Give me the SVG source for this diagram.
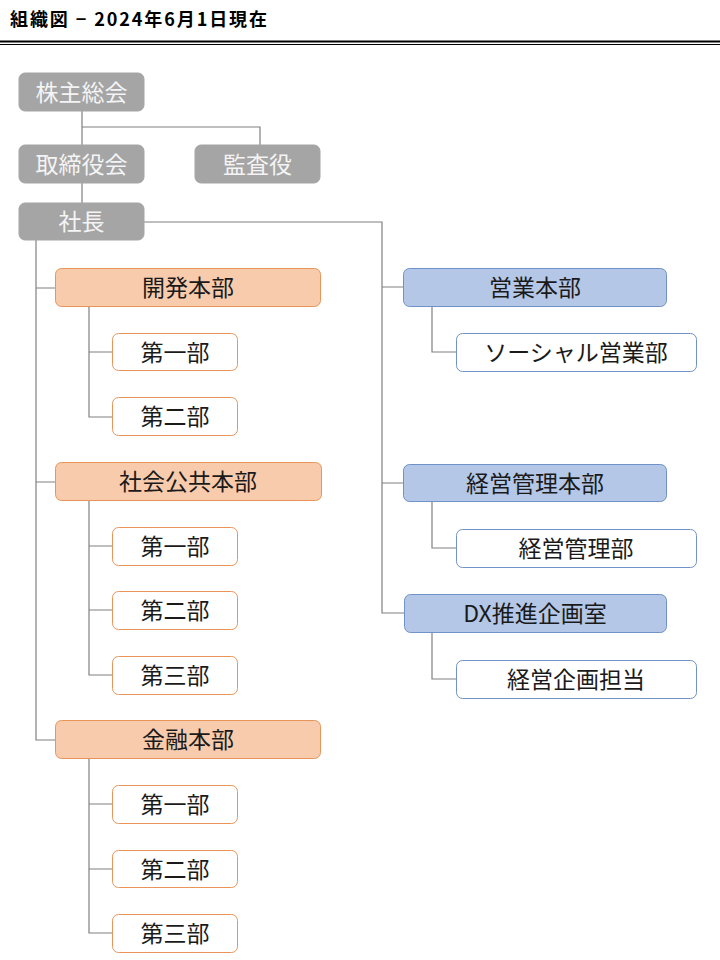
<svg xmlns="http://www.w3.org/2000/svg" width="720" height="960" viewBox="0 0 720 960">
<style>
text{font-family:"Noto Sans CJK JP","Noto Sans",sans-serif;font-size:23px;text-anchor:middle}
.g rect{fill:#a5a5a5;stroke:#a5a5a5}
.g text{fill:#f4f4f4}
.o rect{fill:#f8cbad;stroke:#e9955a;stroke-width:1}
.ow rect{fill:#fff;stroke:#e9955a;stroke-width:1}
.b rect{fill:#b4c7e7;stroke:#7092c8;stroke-width:1}
.bw rect{fill:#fff;stroke:#7092c8;stroke-width:1}
.o text,.ow text,.b text,.bw text{fill:#1a1a1a}
#connectors path{fill:none;stroke:#808080;stroke-width:1.2}
</style>
<rect width="720" height="960" fill="#fff"/>
<g id="header">
<text x="10" y="26" style="text-anchor:start;font-size:18px;font-weight:bold;fill:#000" textLength="257" lengthAdjust="spacing">組織図 − 2024年6月1日現在</text>
<line x1="0" y1="41.5" x2="720" y2="41.5" stroke="#000" stroke-width="1.8"/>
<line x1="0" y1="44.5" x2="720" y2="44.5" stroke="#000" stroke-width="1"/>
</g>
<g id="connectors">
<path d="M82 111V145M82 127H260V145"/>
<path d="M82 183V203"/>
<path d="M36 240V740H55M36 288H55M36 482H55"/>
<path d="M89 307V417H112M89 352H112"/>
<path d="M89 501V675H112M89 546H112M89 610H112"/>
<path d="M89 759V933H112M89 804H112M89 869H112"/>
<path d="M144 222H382V613H404M382 287H403M382 483H403"/>
<path d="M432 307V352H456"/>
<path d="M432 502V548H456"/>
<path d="M432 633V679H456"/>
</g>
<g id="n-kabunushi" class="g"><rect x="19" y="73" width="125" height="38" rx="6"/><text x="81.5" y="100.5">株主総会</text></g>
<g id="n-torishimari" class="g"><rect x="19" y="145" width="125" height="38" rx="6"/><text x="81.5" y="172.5">取締役会</text></g>
<g id="n-kansa" class="g"><rect x="195" y="145" width="125" height="38" rx="6"/><text x="257.5" y="172.5">監査役</text></g>
<g id="n-shacho" class="g"><rect x="19" y="203" width="125" height="37" rx="6"/><text x="81.5" y="230">社長</text></g>

<g id="n-kaihatsu" class="o"><rect x="55.5" y="268.5" width="265" height="38" rx="6"/><text x="188" y="296">開発本部</text></g>
<g id="n-kaihatsu-1" class="ow"><rect x="112.5" y="333.5" width="125" height="37" rx="6"/><text x="175" y="360.5">第一部</text></g>
<g id="n-kaihatsu-2" class="ow"><rect x="112.5" y="397.5" width="125" height="38" rx="6"/><text x="175" y="425">第二部</text></g>

<g id="n-shakai" class="o"><rect x="55.5" y="462.5" width="266" height="38" rx="6"/><text x="188" y="490">社会公共本部</text></g>
<g id="n-shakai-1" class="ow"><rect x="112.5" y="527.5" width="125" height="38" rx="6"/><text x="175" y="555">第一部</text></g>
<g id="n-shakai-2" class="ow"><rect x="112.5" y="591.5" width="125" height="38" rx="6"/><text x="175" y="619">第二部</text></g>
<g id="n-shakai-3" class="ow"><rect x="112.5" y="656.5" width="125" height="38" rx="6"/><text x="175" y="684">第三部</text></g>

<g id="n-kinyu" class="o"><rect x="55.5" y="720.5" width="265" height="38" rx="6"/><text x="188" y="748">金融本部</text></g>
<g id="n-kinyu-1" class="ow"><rect x="112.5" y="785.5" width="125" height="38" rx="6"/><text x="175" y="813">第一部</text></g>
<g id="n-kinyu-2" class="ow"><rect x="112.5" y="850.5" width="125" height="37" rx="6"/><text x="175" y="877.5">第二部</text></g>
<g id="n-kinyu-3" class="ow"><rect x="112.5" y="914.5" width="125" height="38" rx="6"/><text x="175" y="942">第三部</text></g>

<g id="n-eigyo" class="b"><rect x="403.5" y="268.5" width="263" height="38" rx="6"/><text x="535" y="296">営業本部</text></g>
<g id="n-social" class="bw"><rect x="456.5" y="333.5" width="240" height="38" rx="6"/><text x="576" y="361">ソーシャル営業部</text></g>
<g id="n-keiei" class="b"><rect x="403.5" y="464.5" width="263" height="37" rx="6"/><text x="535" y="491.5">経営管理本部</text></g>
<g id="n-keiei-1" class="bw"><rect x="456.5" y="529.5" width="240" height="38" rx="6"/><text x="576" y="557">経営管理部</text></g>
<g id="n-dx" class="b"><rect x="404.5" y="594.5" width="262" height="38" rx="6"/><text x="535" y="622">DX推進企画室</text></g>
<g id="n-dx-1" class="bw"><rect x="456.5" y="660.5" width="240" height="38" rx="6"/><text x="576" y="688">経営企画担当</text></g>
</svg>
